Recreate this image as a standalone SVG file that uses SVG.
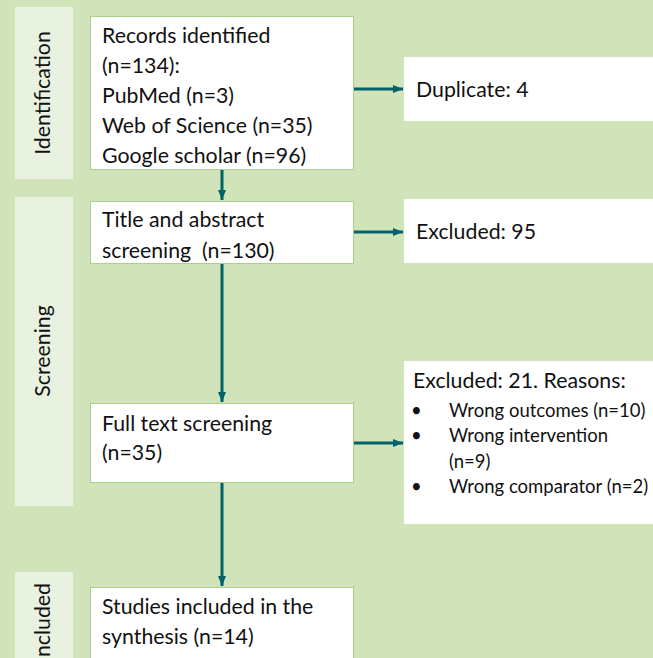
<svg xmlns="http://www.w3.org/2000/svg" width="653" height="658" viewBox="0 0 653 658">
<defs>
<style>
.bg{fill:#d0e3b9}
.side{fill:#e9f2e0}
.box{fill:#ffffff;stroke:#a9d18e;stroke-width:1}
.wbox{fill:#ffffff}
text{font-family:Lato,"Noto Sans",sans-serif;font-size:21.3px;fill:#111111}
.sm{font-size:18.5px}
.conn{stroke:#00626b;stroke-width:3;fill:none;marker-end:url(#ah)}
</style>
<marker id="ah" viewBox="0 0 10 8" refX="10" refY="4" markerWidth="10" markerHeight="8" markerUnits="userSpaceOnUse" orient="auto">
<path d="M0,0 L10,4 L0,8 Z" fill="#00626b"/>
</marker>
</defs>
<rect class="bg" x="0" y="0" width="653" height="658"/>

<g id="stage-identification">
<rect class="side" x="15" y="7" width="58" height="172"/>
<text transform="translate(50,93) rotate(-90)" text-anchor="middle">Identification</text>
</g>
<g id="stage-screening">
<rect class="side" x="15" y="197" width="58" height="309"/>
<text transform="translate(50,351) rotate(-90)" text-anchor="middle">Screening</text>
</g>
<g id="stage-included">
<rect class="side" x="15" y="572" width="58" height="100"/>
<text transform="translate(50,583) rotate(-90)" text-anchor="end">Included</text>
</g>

<g id="records">
<rect class="box" x="90.5" y="16.5" width="263" height="153"/>
<text x="102" y="43">Records identified</text>
<text x="102" y="73">(n=134):</text>
<text x="102" y="103">PubMed (n=3)</text>
<text x="102" y="133">Web of Science (n=35)</text>
<text x="102" y="163">Google scholar (n=96)</text>
</g>
<g id="title-abstract">
<rect class="box" x="90.5" y="201.5" width="263" height="62"/>
<text x="102" y="227">Title and abstract</text>
<text x="102" y="258" xml:space="preserve">screening  (n=130)</text>
</g>
<g id="full-text">
<rect class="box" x="90.5" y="403.5" width="263" height="79"/>
<text x="102" y="431">Full text screening</text>
<text x="102" y="460">(n=35)</text>
</g>
<g id="included">
<rect class="box" x="90.5" y="587.5" width="263" height="90"/>
<text x="102" y="614">Studies included in the</text>
<text x="102" y="644">synthesis (n=14)</text>
</g>
<g id="duplicate">
<rect class="wbox" x="404" y="57" width="260" height="64"/>
<text x="416" y="97">Duplicate: 4</text>
</g>
<g id="excluded-95">
<rect class="wbox" x="404" y="199" width="260" height="64"/>
<text x="416" y="239">Excluded: 95</text>
</g>
<g id="excluded-21">
<rect class="wbox" x="404" y="361" width="260" height="163"/>
<text x="413" y="388">Excluded: 21. Reasons:</text>
<text class="sm" x="411" y="417">•</text>
<text class="sm" x="449" y="417">Wrong outcomes (n=10)</text>
<text class="sm" x="411" y="442">•</text>
<text class="sm" x="449" y="442">Wrong intervention</text>
<text class="sm" x="449" y="468">(n=9)</text>
<text class="sm" x="411" y="493">•</text>
<text class="sm" x="449" y="493">Wrong comparator (n=2)</text>
</g>

<g id="connectors">
<line class="conn" x1="222" y1="170" x2="222" y2="200"/>
<line class="conn" x1="222" y1="264" x2="222" y2="402"/>
<line class="conn" x1="222" y1="483" x2="222" y2="586"/>
<line class="conn" x1="354" y1="89" x2="403" y2="89"/>
<line class="conn" x1="354" y1="232" x2="403" y2="232"/>
<line class="conn" x1="354" y1="443" x2="403" y2="443"/>
</g>
</svg>
